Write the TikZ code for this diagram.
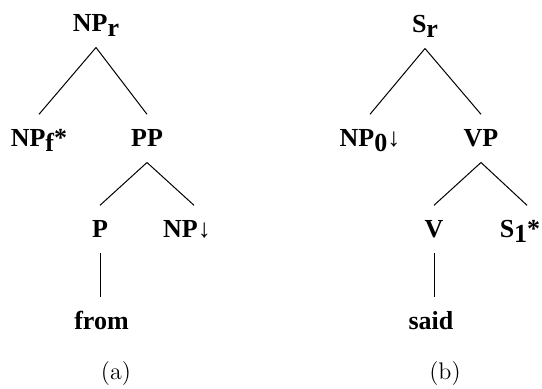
\documentclass[tikz,border=0pt]{standalone}
\usepackage{fontspec}
\newfontfamily\treefont{Liberation Serif}
\newcommand{\lowr}[1]{\raisebox{-2.5pt}{#1}}

\begin{document}
\begin{tikzpicture}[x=0.5pt,y=-0.5pt,
    lbl/.style={font=\treefont\bfseries\fontsize{13}{15}\selectfont, anchor=base,
      text height=8.6pt, text depth=0pt, inner xsep=1pt, inner ysep=7.5pt},
    captag/.style={font=\large, anchor=base},
    every path/.style={line width=0.5pt}]
    \useasboundingbox (0,0) rectangle (542,389);

    % (a)
    \node[lbl] (npr) at (96,32) {NP\lowr{r}};
    \node[lbl] (npf) at (39,147) {NP\lowr{f}*};
    \node[lbl] (pp) at (147,147) {PP};
    \node[lbl] (p) at (100,238) {P};
    \node[lbl] (npd) at (187,238) {NP↓};
    \node[lbl] (from) at (101.5,330) {from};
    \node[captag] (capa) at (116,380) {(a)};

    \draw (npr.south) -- (npf.north);
    \draw (npr.south) -- (pp.north);
    \draw (pp.south) -- (p.north);
    \draw (pp.south) -- ([xshift=3.5pt]npd.north);
    \draw (p.south) -- (p.south |- from.north);

    % (b)
    \node[lbl] (sr) at (425,33) {S\lowr{r}};
    \node[lbl] (npz) at (370,147) {NP\lowr{0}↓};
    \node[lbl] (vp) at (481,147) {VP};
    \node[lbl] (v) at (434,238) {V};
    \node[lbl] (sone) at (520,238) {S\lowr{1}*};
    \node[lbl] (said) at (431,330) {said};
    \node[captag] (capb) at (445,380) {(b)};

    \draw (sr.south) -- (npz.north);
    \draw (sr.south) -- (vp.north);
    \draw (vp.south) -- (v.north);
    \draw (vp.south) -- ([xshift=3.5pt]sone.north);
    \draw (v.south) -- (v.south |- said.north);
\end{tikzpicture}
\end{document}
